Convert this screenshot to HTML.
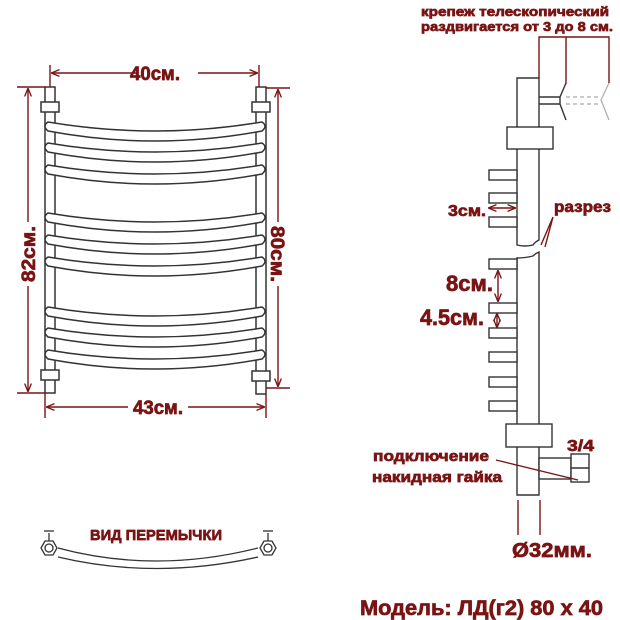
<!DOCTYPE html>
<html><head><meta charset="utf-8"><style>
html,body{margin:0;padding:0;background:#fff}
svg{display:block}
text{font-family:"Liberation Sans",sans-serif;font-weight:bold;fill:#7a1414;stroke:#7a1414;stroke-width:0.7}
</style></head><body>
<svg width="620" height="620" viewBox="0 0 620 620" xmlns="http://www.w3.org/2000/svg">
<defs>
<marker id="a" viewBox="0 0 10 10" refX="9" refY="5" markerWidth="6" markerHeight="6" orient="auto-start-reverse"><path d="M0,1 L10,5 L0,9" fill="none" stroke="#7a1414" stroke-width="1.6"/></marker>
</defs>
<g fill="none" stroke="#333" stroke-width="1.5">
<rect x="45" y="87" width="10" height="306" fill="#fff"/>
<rect x="256" y="87" width="10" height="307" fill="#fff"/>
<rect x="41" y="102" width="18" height="10" fill="#fff"/>
<rect x="41" y="370" width="18" height="10" fill="#fff"/>
<rect x="252" y="102" width="18" height="10" fill="#fff"/>
<rect x="252" y="371" width="18" height="10" fill="#fff"/>
<g fill="#fff">
<path d="M48,122 Q155,140 262,122 Q268,126 262,131 Q155,151 48,131 Q42,126 48,122Z"/>
<path d="M48,143 Q155,161 262,143 Q268,147 262,152 Q155,172 48,152 Q42,147 48,143Z"/>
<path d="M48,165 Q155,183 262,165 Q268,169 262,174 Q155,194 48,174 Q42,169 48,165Z"/>
<path d="M48,213 Q155,231 262,213 Q268,217 262,222 Q155,242 48,222 Q42,217 48,213Z"/>
<path d="M48,235 Q155,253 262,235 Q268,239 262,244 Q155,264 48,244 Q42,239 48,235Z"/>
<path d="M48,257 Q155,275 262,257 Q268,261 262,266 Q155,286 48,266 Q42,261 48,257Z"/>
<path d="M48,307 Q155,325 262,307 Q268,311 262,316 Q155,336 48,316 Q42,311 48,307Z"/>
<path d="M48,328 Q155,346 262,328 Q268,332 262,337 Q155,357 48,337 Q42,332 48,328Z"/>
<path d="M48,350 Q155,368 262,350 Q268,354 262,359 Q155,379 48,359 Q42,354 48,350Z"/>
</g>
</g>
<g stroke="#7a1414" stroke-width="1.4" fill="none">
<line x1="50" y1="65" x2="50" y2="87"/><line x1="259" y1="65" x2="259" y2="87"/>
<line x1="52" y1="73" x2="138" y2="73" marker-start="url(#a)"/><line x1="198" y1="73" x2="257" y2="73" marker-end="url(#a)"/>
<line x1="17" y1="87" x2="45" y2="87"/><line x1="17" y1="393" x2="45" y2="393"/>
<line x1="28" y1="89" x2="28" y2="222" marker-start="url(#a)"/><line x1="28" y1="286" x2="28" y2="391" marker-end="url(#a)"/>
<line x1="266" y1="88" x2="290" y2="88"/><line x1="266" y1="388" x2="290" y2="388"/>
<line x1="278" y1="90" x2="278" y2="222" marker-start="url(#a)"/><line x1="278" y1="286" x2="278" y2="386" marker-end="url(#a)"/>
<line x1="45" y1="393" x2="45" y2="418"/><line x1="266" y1="394" x2="266" y2="418"/>
<line x1="47" y1="407" x2="128" y2="407" marker-start="url(#a)"/><line x1="188" y1="407" x2="264" y2="407" marker-end="url(#a)"/>
</g>
<text x="155" y="80" font-size="19" text-anchor="middle" textLength="50" lengthAdjust="spacingAndGlyphs">40см.</text>
<text x="158" y="414" font-size="19" text-anchor="middle" textLength="50" lengthAdjust="spacingAndGlyphs">43см.</text>
<text transform="translate(35,254) rotate(-90)" font-size="19" text-anchor="middle" textLength="56" lengthAdjust="spacingAndGlyphs">82см.</text>
<text transform="translate(271,254) rotate(90)" font-size="19" text-anchor="middle" textLength="56" lengthAdjust="spacingAndGlyphs">80см.</text>
<g fill="none" stroke="#333" stroke-width="1.3">
<path d="M58,548 Q155,574 258,548"/><path d="M58,557 Q155,580 258,557"/>
<polygon points="41,548 45,541 53,541 57,548 53,555 45,555" fill="#fff"/><circle cx="49" cy="548" r="4"/>
<line x1="49" y1="541" x2="49" y2="533"/><line x1="44" y1="531" x2="54" y2="531"/>
<polygon points="260,548 264,541 272,541 276,548 272,555 264,555" fill="#fff"/><circle cx="268" cy="548" r="4"/>
<line x1="268" y1="541" x2="268" y2="533"/><line x1="263" y1="531" x2="273" y2="531"/>
</g>
<text x="156" y="540" font-size="15" text-anchor="middle" textLength="132" lengthAdjust="spacingAndGlyphs">ВИД ПЕРЕМЫЧКИ</text>
<g fill="#fff" stroke="#333" stroke-width="1.4">
<path d="M517,78 H539 V240 Q535,242 533,245 Q525,247 517,245 Z"/>
<path d="M517,258 Q525,258 533,256 Q536,253 539,252 V495 H517 Z"/>
<rect x="507" y="127" width="46" height="22"/>
<rect x="506" y="424" width="46" height="23"/>
<rect x="489" y="170" width="28" height="10"/><rect x="489" y="193" width="28" height="10"/><rect x="489" y="217" width="28" height="10"/>
<rect x="489" y="259" width="28" height="10"/><rect x="489" y="303" width="28" height="10"/><rect x="489" y="328" width="28" height="10"/>
<rect x="489" y="352" width="28" height="10"/><rect x="489" y="377" width="28" height="10"/><rect x="489" y="401" width="28" height="10"/>
<rect x="539" y="458" width="32" height="21"/>
<rect x="571" y="454" width="18" height="28"/>
<line x1="571" y1="468" x2="589" y2="468"/>
<line x1="539" y1="97" x2="560" y2="97"/><line x1="539" y1="104" x2="560" y2="104"/>
<path d="M566,83 L560,97 L560,104 L566,120" fill="none"/>
</g>
<g stroke="#aaa" stroke-width="1.2" fill="none">
<line x1="566" y1="97" x2="601" y2="97" stroke-dasharray="4,3"/><line x1="566" y1="104" x2="601" y2="104" stroke-dasharray="4,3"/>
<path d="M609,83 L601,100 L609,120"/>
</g>
<g stroke="#7a1414" stroke-width="1.4" fill="none">
<polyline points="539,78 539,37 609,37 609,83"/>
<line x1="566" y1="37" x2="566" y2="84"/>
<line x1="489" y1="208" x2="515" y2="208" marker-start="url(#a)" marker-end="url(#a)"/>
<line x1="498" y1="271" x2="498" y2="301" marker-start="url(#a)" marker-end="url(#a)"/>
<line x1="497" y1="314" x2="497" y2="327" marker-start="url(#a)" marker-end="url(#a)"/>
<path d="M553,217 L541,245 M553,217 L545,247"/>
<line x1="496" y1="460" x2="578" y2="480"/>
<line x1="518" y1="500" x2="518" y2="535"/><line x1="540" y1="500" x2="540" y2="535"/>
</g>
<text x="421" y="16" font-size="13" textLength="188" lengthAdjust="spacingAndGlyphs">крепеж телескопический</text>
<text x="421" y="31" font-size="13" textLength="192" lengthAdjust="spacingAndGlyphs">раздвигается от 3 до 8 см.</text>
<text x="448" y="216" font-size="16" textLength="38" lengthAdjust="spacingAndGlyphs">3см.</text>
<text x="554" y="212" font-size="16" textLength="57" lengthAdjust="spacingAndGlyphs">разрез</text>
<text x="446" y="291" font-size="22" textLength="47" lengthAdjust="spacingAndGlyphs">8см.</text>
<text x="420" y="325" font-size="22" textLength="64" lengthAdjust="spacingAndGlyphs">4.5см.</text>
<text x="373" y="461" font-size="15" textLength="116" lengthAdjust="spacingAndGlyphs">подключение</text>
<text x="372" y="482" font-size="15" textLength="130" lengthAdjust="spacingAndGlyphs">накидная гайка</text>
<text x="567" y="451" font-size="16" textLength="27" lengthAdjust="spacingAndGlyphs">3/4</text>
<text x="512" y="557" font-size="20" textLength="80" lengthAdjust="spacingAndGlyphs">Ø32мм.</text>
<text x="360" y="615" font-size="21" textLength="243" lengthAdjust="spacingAndGlyphs">Модель: ЛД(г2) 80 x 40</text>
</svg>
</body></html>
